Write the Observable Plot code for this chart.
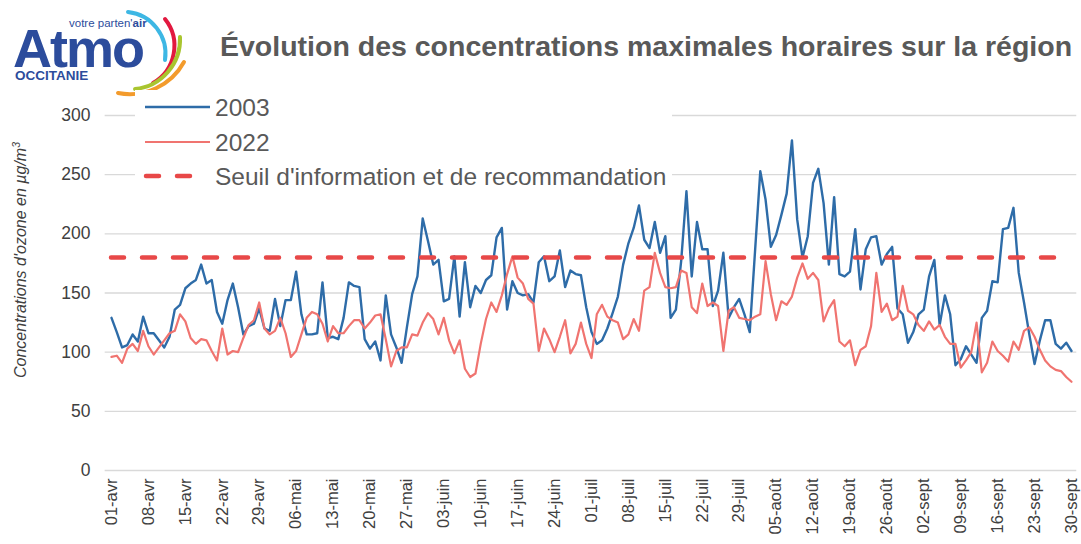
<!DOCTYPE html>
<html>
<head>
<meta charset="utf-8">
<script src="https://cdn.jsdelivr.net/npm/d3@7"></script>
<script src="https://cdn.jsdelivr.net/npm/@observablehq/plot@0.6"></script>
<style>
  body { margin: 0; background: #fff; font-family: "Liberation Sans", Arial, sans-serif; }
  #wrap { position: relative; width: 1081px; height: 544px; overflow: hidden; }
  #chart { position: absolute; left: 0; top: 0; }
  #overlay { position: absolute; left: 0; top: 0; pointer-events: none; }
</style>
</head>
<body>
<div id="wrap">
  <div id="chart"></div>
  <svg id="overlay" width="1081" height="544"></svg>
</div>
<script>
// Daily maximum hourly ozone concentrations (µg/m³), 1 April → 30 September
const series2003 = [
  129,117,104,106,115,109,130,116,116,110,104,113,136,140,154,158,161,174,158,161,
  134,124,144,158,138,115,122,124,137,120,118,145,122,144,144,168,132,115,115,116,
  159,112,113,111,129,159,156,155,111,103,109,93,148,115,104,91,121,149,164,213,
  194,174,178,143,145,181,130,176,138,156,150,161,165,197,205,136,160,150,148,149,
  142,176,181,160,164,186,155,169,166,165,138,117,107,110,120,133,147,174,192,205,
  224,195,188,210,184,198,129,136,177,236,164,210,187,187,139,152,184,129,138,145,
  132,117,185,253,229,189,199,216,234,279,212,180,198,243,255,226,174,231,166,164,
  168,204,153,187,197,198,174,183,189,137,132,108,117,132,136,164,178,123,148,132,
  89,94,105,98,91,129,135,160,159,204,205,222,167,142,115,90,110,127,127,107,
  103,108,101
];
const series2022 = [
  96,97,91,103,107,101,118,105,98,104,110,116,118,132,126,112,107,111,110,101,
  93,120,98,101,100,112,123,127,142,120,115,118,129,116,96,101,115,129,134,132,
  124,109,122,116,116,122,127,127,120,125,131,132,111,88,101,104,104,115,114,125,
  133,128,115,129,110,99,110,86,79,82,107,128,142,134,148,166,181,163,158,145,
  141,101,120,111,100,113,127,99,107,125,107,95,132,140,130,127,125,111,115,128,
  118,152,155,184,167,155,154,155,169,167,138,133,158,139,142,139,101,135,138,129,
  128,127,130,132,177,149,127,143,140,147,163,175,162,167,161,126,137,144,109,105,
  110,89,102,105,122,167,134,141,127,130,156,135,132,123,118,126,119,123,113,107,
  107,87,93,100,125,83,91,109,101,97,92,109,102,118,121,113,102,93,88,85,
  84,79,75
];
const threshold = [180];
const yTicks = [0, 50, 100, 150, 200, 250, 300];
const xTickLabels = [
  "01-avr","08-avr","15-avr","22-avr","29-avr","06-mai","13-mai","20-mai","27-mai",
  "03-juin","10-juin","17-juin","24-juin","01-juil","08-juil","15-juil","22-juil","29-juil",
  "05-août","12-août","19-août","26-août","02-sept","09-sept","16-sept","23-sept","30-sept"
];
const legendLabels = ["2003", "2022", "Seuil d'information et de recommandation"];
const titleText = "Évolution des concentrations maximales horaires sur la région";
const yLabelText = "Concentrations d'ozone en µg/m";

const colors = { s2003: "#2E6CA8", s2022: "#F07470", seuil: "#E84848", grid: "#D9D9D9", text: "#404040", legend: "#595959" };

// one tick label every week, counting days from 1 April
const xTickDays = xTickLabels.map((_, i) => i * 7);
const rows2003 = series2003.map((v, i) => ({ day: i, value: v }));
const rows2022 = series2022.map((v, i) => ({ day: i, value: v }));

const chart = Plot.plot({
  width: 1081,
  height: 544,
  marginLeft: 111,
  marginRight: 10,
  marginTop: 115,
  marginBottom: 74,
  style: { fontFamily: "'Liberation Sans', Arial, sans-serif", color: colors.text, background: "transparent", overflow: "visible" },
  x: { domain: [0, series2003.length - 1], label: null, axis: null },
  y: { domain: [0, 300], label: null, axis: null },
  marks: [
    Plot.ruleY(yTicks, { x1: -1.2, x2: series2003.length, stroke: colors.grid, strokeWidth: 1.3 }),
    Plot.lineY(rows2003, { x: "day", y: "value", stroke: colors.s2003, strokeWidth: 2.4, strokeLinejoin: "round" }),
    Plot.lineY(rows2022, { x: "day", y: "value", stroke: colors.s2022, strokeWidth: 2.2, strokeLinejoin: "round" }),
    Plot.ruleY(threshold, { stroke: colors.seuil, strokeWidth: 4.5, strokeDasharray: "13,18", strokeLinecap: "round" }),
    Plot.axisY(yTicks, { tickSize: 0, tickPadding: 21, fontSize: 17.5, label: null }),
    Plot.axisX(xTickDays, { tickFormat: d => xTickLabels[d / 7], tickRotate: -90, tickSize: 0, tickPadding: 8, fontSize: 16.5, label: null })
  ]
});
document.getElementById("chart").appendChild(chart);

// ---- overlay: logo, title, legend, y label ----
const svg = d3.select("#overlay");
const ff = "'Liberation Sans', Arial, sans-serif";

// Logo arcs
const arcs = [
  { d: "M128,12 A42,42 0 0 1 165,60", c: "#3DB7E4" },
  { d: "M165,19 A43,43 0 0 1 153,83", c: "#E2183F" },
  { d: "M180,37 A50,50 0 0 1 135,89", c: "#A9C52F" },
  { d: "M184,62 A62,62 0 0 1 118,93", c: "#F39B2C" }
];
svg.selectAll("path.arc").data(arcs).join("path")
  .attr("class", "arc").attr("d", d => d.d).attr("fill", "none")
  .attr("stroke", d => d.c).attr("stroke-width", 4).attr("stroke-linecap", "round");

svg.append("text").attr("x", 13).attr("y", 67).attr("font-family", ff).attr("font-weight", "bold")
  .attr("font-size", 54).attr("letter-spacing", -2).attr("fill", "#2C4C9C").text("Atmo");
const vp = svg.append("text").attr("x", 69).attr("y", 27).attr("font-family", ff)
  .attr("font-size", 11.5).attr("fill", "#2C4C9C");
vp.append("tspan").text("votre parten'");
vp.append("tspan").attr("font-weight", "bold").text("air");
svg.append("text").attr("x", 15).attr("y", 80).attr("font-family", ff).attr("font-weight", "bold")
  .attr("font-size", 13.5).attr("fill", "#2C4C9C").text("OCCITANIE");

// Title
svg.append("text").attr("x", 220).attr("y", 56).attr("font-family", ff).attr("font-weight", "bold")
  .attr("font-size", 28.5).attr("fill", colors.legend).text(titleText);

// Legend box (white, hides gridlines)
svg.append("rect").attr("x", 135).attr("y", 90).attr("width", 537).attr("height", 103).attr("fill", "#fff");
const legY = [107, 142, 176];
svg.append("line").attr("x1", 145).attr("x2", 210).attr("y1", legY[0]).attr("y2", legY[0])
  .attr("stroke", colors.s2003).attr("stroke-width", 2.4);
svg.append("line").attr("x1", 145).attr("x2", 210).attr("y1", legY[1]).attr("y2", legY[1])
  .attr("stroke", colors.s2022).attr("stroke-width", 2.2);
svg.append("line").attr("x1", 146).attr("x2", 191).attr("y1", legY[2]).attr("y2", legY[2])
  .attr("stroke", colors.seuil).attr("stroke-width", 4.5).attr("stroke-dasharray", "13,18").attr("stroke-linecap", "round");
legendLabels.forEach((t, i) => {
  svg.append("text").attr("x", 215).attr("y", legY[i]).attr("dy", "0.36em").attr("font-family", ff)
    .attr("font-size", 24.5).attr("fill", colors.legend).text(t);
});

// Y axis label
const yl = svg.append("text").attr("transform", "translate(26,378) rotate(-90)").attr("font-family", ff)
  .attr("font-style", "italic").attr("font-size", 16).attr("fill", colors.text);
yl.append("tspan").text(yLabelText);
yl.append("tspan").attr("font-size", 10.5).attr("dy", -6).text("3");
</script>
</body>
</html>
